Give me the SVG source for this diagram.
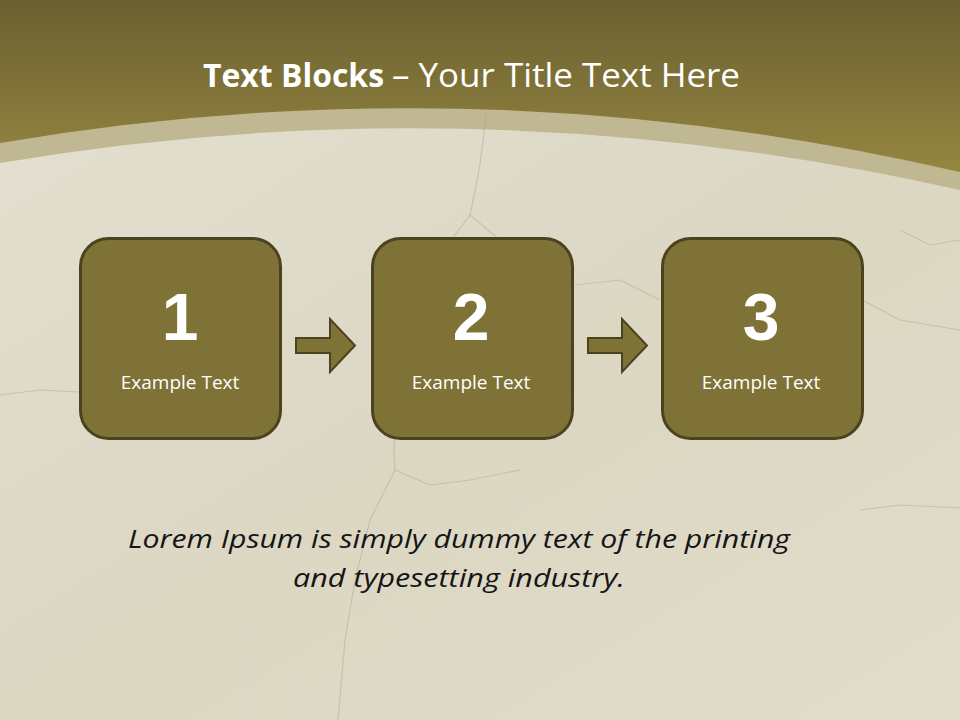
<svg xmlns="http://www.w3.org/2000/svg" width="960" height="720" viewBox="0 0 960 720">
<defs>
<linearGradient id="hdr" x1="0" y1="0" x2="0" y2="1">
<stop offset="0" stop-color="#6a5f30"/>
<stop offset="1" stop-color="#9c8c42"/>
</linearGradient>
<linearGradient id="bg" x1="0" y1="0" x2="1" y2="1">
<stop offset="0" stop-color="#e2dfd0"/>
<stop offset="0.5" stop-color="#dcd7c3"/>
<stop offset="1" stop-color="#e2ddca"/>
</linearGradient>
<style>
.box{fill:#7f7237;stroke:#4b4220;stroke-width:3}
.arr{fill:#7f7237;stroke:#4b4220;stroke-width:2}
.num{font-family:"Liberation Sans",Arial,sans-serif;font-weight:bold;font-size:66px;fill:#fff;text-anchor:middle}
.lbl{font-family:"Open Sans","Noto Sans",sans-serif;font-size:19px;fill:#fff;text-anchor:middle}
.ttl{font-family:"Open Sans","Noto Sans",sans-serif;font-size:33px;fill:#fff}
.lor{font-family:"Open Sans","Noto Sans",sans-serif;font-style:italic;font-size:26px;fill:#151515;text-anchor:middle}
.crk{fill:none;stroke:#aaa58f;stroke-width:1.2;opacity:0.45}
</style>
</defs>
<rect x="0" y="0" width="960" height="720" fill="url(#bg)"/>
<g id="header">
<rect x="0" y="0" width="960" height="200" fill="url(#hdr)"/>
<path d="M0 143 Q480 61 960 172 L960 720 L0 720 Z" fill="#c0b793"/>
<path d="M0 163 Q480 82 960 190 L960 720 L0 720 Z" fill="url(#bg)"/>
</g>
<g id="cracks">
<path class="crk" d="M486 112 C484 140 478 180 470 215 L455 235 L440 270 L425 300 L415 330 C405 380 390 420 395 470 L370 520 L355 580 L345 640 L338 720"/>
<path class="crk" d="M470 215 L500 240 L540 250 L575 270"/>
<path class="crk" d="M575 285 L620 280 L660 300"/>
<path class="crk" d="M0 395 L40 390 L80 392"/>
<path class="crk" d="M862 300 L900 320 L960 330"/>
<path class="crk" d="M395 470 L430 485 L470 480 L520 470"/>
<path class="crk" d="M860 510 L900 505 L960 508"/>
<path class="crk" d="M900 230 L930 245 L960 240"/>
</g>
<g id="title">
<text class="ttl" x="203" y="87" font-weight="bold" textLength="181" lengthAdjust="spacingAndGlyphs">Text Blocks</text>
<text class="ttl" x="392" y="87" textLength="348" lengthAdjust="spacingAndGlyphs">– Your Title Text Here</text>
</g>
<g id="connectors">
<path class="arr" d="M296 338 L330 338 L330 319 L355 345.5 L330 372 L330 353 L296 353 Z"/>
<path class="arr" d="M588 338 L622 338 L622 319 L647 345.5 L622 372 L622 353 L588 353 Z"/>
</g>
<g id="node1">
<rect class="box" x="80.5" y="238.5" width="200" height="200" rx="28"/>
<text class="num" x="180" y="340">1</text>
<text class="lbl" x="180" y="389">Example Text</text>
</g>
<g id="node2">
<rect class="box" x="372.5" y="238.5" width="200" height="200" rx="28"/>
<text class="num" x="471" y="340">2</text>
<text class="lbl" x="471" y="389">Example Text</text>
</g>
<g id="node3">
<rect class="box" x="662.5" y="238.5" width="200" height="200" rx="28"/>
<text class="num" x="761" y="340">3</text>
<text class="lbl" x="761" y="389">Example Text</text>
</g>
<g id="caption">
<text class="lor" x="459" y="548" textLength="662" lengthAdjust="spacingAndGlyphs">Lorem Ipsum is simply dummy text of the printing</text>
<text class="lor" x="459" y="587" textLength="332" lengthAdjust="spacingAndGlyphs">and typesetting industry.</text>
</g>
</svg>
